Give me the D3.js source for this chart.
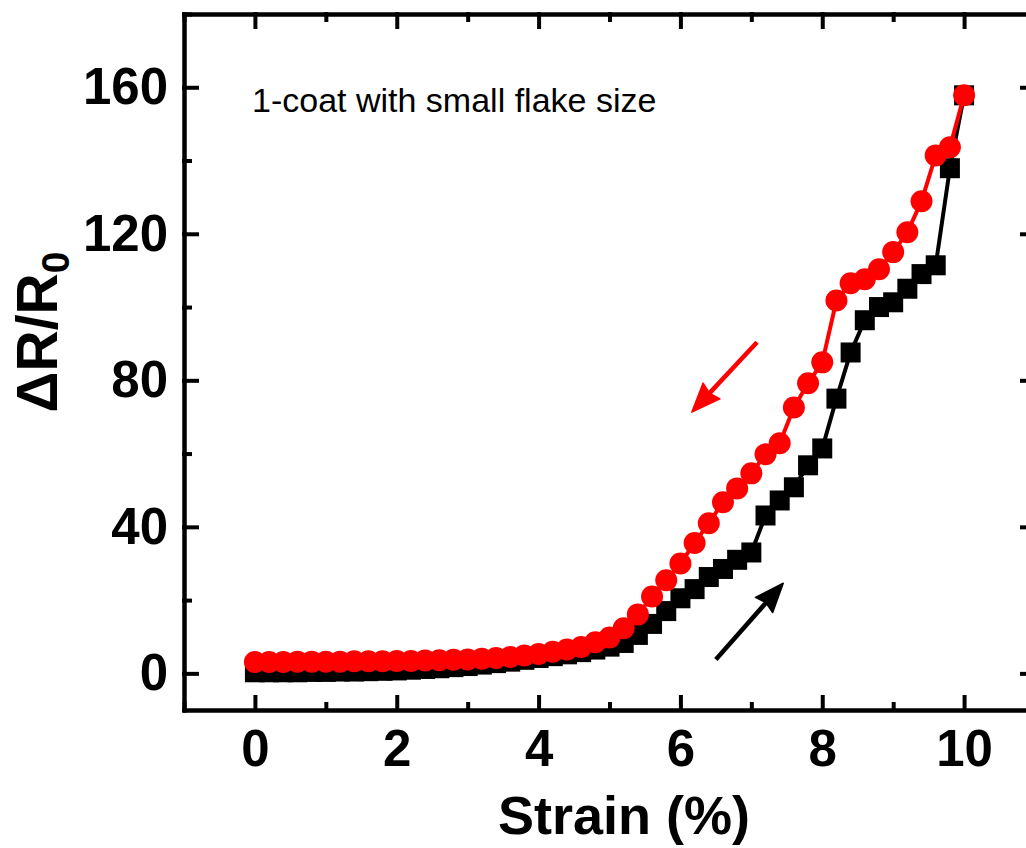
<!DOCTYPE html>
<html>
<head>
<meta charset="utf-8">
<script src="https://cdn.jsdelivr.net/npm/d3@7"></script>
<style>
  body { margin: 0; background: #fff; }
  svg { display: block; font-family: Arial, "Liberation Sans", sans-serif; }
  .axis path, .axis line { stroke: #000; stroke-width: 4; stroke-linecap: square; }
  .axis text { font-size: 51px; font-weight: bold; fill: #000; }
</style>
</head>
<body>
<div id="chart"></div>
<script>
const WIDTH = 1026;
const HEIGHT = 848;
const MARGINS = {left: 184, right: -9, top: 14, bottom: 138};

const VIS_WIDTH = WIDTH - MARGINS.left - MARGINS.right;
const VIS_HEIGHT = HEIGHT - MARGINS.top - MARGINS.bottom;

// strain (%), one reading every 0.2 %
const strain = [0, 0.2, 0.4, 0.6, 0.8, 1.0, 1.2, 1.4, 1.6, 1.8,
  2.0, 2.2, 2.4, 2.6, 2.8, 3.0, 3.2, 3.4, 3.6, 3.8,
  4.0, 4.2, 4.4, 4.6, 4.8, 5.0, 5.2, 5.4, 5.6, 5.8,
  6.0, 6.2, 6.4, 6.6, 6.8, 7.0, 7.2, 7.4, 7.6, 7.8,
  8.0, 8.2, 8.4, 8.6, 8.8, 9.0, 9.2, 9.4, 9.6, 9.8, 10.0];

// loading (black squares)
const loading = [0.3, 0.3, 0.3, 0.3, 0.4, 0.4, 0.5, 0.5, 0.6, 0.7,
  0.8, 1.0, 1.2, 1.4, 1.7, 2.0, 2.4, 2.8, 3.2, 3.7,
  4.2, 4.7, 5.2, 5.8, 6.5, 7.3, 8.3, 10.5, 13.5, 17.0,
  20.5, 23.0, 26.3, 28.5, 31.0, 33.0, 43.1, 47.2, 50.8, 56.8,
  61.4, 75.0, 87.6, 96.4, 100.0, 101.3, 105.0, 109.0, 111.4, 137.9, 157.8];

// unloading (red circles)
const unloading = [3.1, 3.1, 3.1, 3.2, 3.2, 3.2, 3.2, 3.3, 3.3, 3.3,
  3.4, 3.4, 3.5, 3.6, 3.7, 3.8, 4.0, 4.2, 4.5, 4.9,
  5.3, 5.9, 6.5, 7.2, 8.5, 9.8, 12.3, 16.1, 21.0, 25.4,
  30.0, 35.6, 41.0, 46.7, 50.5, 54.6, 59.8, 62.8, 72.6, 79.2,
  84.9, 101.8, 106.5, 107.6, 110.3, 115.0, 120.4, 128.9, 141.4, 143.6, 157.8];

const xTicks = [0, 2, 4, 6, 8, 10];
const xMinor = [-1, 1, 3, 5, 7, 9, 11];
const yTicks = [0, 40, 80, 120, 160];
const yMinor = [20, 60, 100, 140, 180];

// direction arrows: [strain start, value start, strain end, value end]
const upArrow = [6.5, 3.8, 7.45, 24.6];
const downArrow = [7.08, 90.4, 6.16, 71.3];

const svg = d3.select("#chart")
  .append("svg")
    .attr("width", WIDTH)
    .attr("height", HEIGHT);

const FRAME = svg.append("g")
  .attr("transform", `translate(${MARGINS.left},${MARGINS.top})`);

const x = d3.scaleLinear().domain([-1, 11]).range([0, VIS_WIDTH]);
const y = d3.scaleLinear().domain([-10, 180]).range([VIS_HEIGHT, 0]);

// axes, ticks pointing inward
FRAME.append("g").attr("class", "axis")
  .attr("transform", `translate(0,${VIS_HEIGHT})`)
  .call(d3.axisBottom(x).tickValues(xTicks).tickSize(-13).tickSizeOuter(0).tickPadding(20).tickFormat(d3.format("d")));
FRAME.append("g").attr("class", "axis")
  .attr("transform", `translate(0,${VIS_HEIGHT})`)
  .call(d3.axisBottom(x).tickValues(xMinor).tickSize(-6).tickSizeOuter(0).tickFormat(""));
FRAME.append("g").attr("class", "axis")
  .call(d3.axisTop(x).tickValues(xTicks).tickSize(-13).tickSizeOuter(0).tickFormat(""));
FRAME.append("g").attr("class", "axis")
  .call(d3.axisTop(x).tickValues(xMinor).tickSize(-6).tickSizeOuter(0).tickFormat(""));

FRAME.append("g").attr("class", "axis")
  .call(d3.axisLeft(y).tickValues(yTicks).tickSize(-13).tickSizeOuter(0).tickPadding(16));
FRAME.append("g").attr("class", "axis")
  .call(d3.axisLeft(y).tickValues(yMinor).tickSize(-6).tickSizeOuter(0).tickFormat(""));
FRAME.append("g").attr("class", "axis")
  .attr("transform", `translate(${VIS_WIDTH},0)`)
  .call(d3.axisRight(y).tickValues(yTicks).tickSize(-13).tickSizeOuter(0).tickFormat(""));
FRAME.append("g").attr("class", "axis")
  .attr("transform", `translate(${VIS_WIDTH},0)`)
  .call(d3.axisRight(y).tickValues(yMinor).tickSize(-6).tickSizeOuter(0).tickFormat(""));

FRAME.selectAll(".axis .tick text").attr("fill", "#000");

const line = d3.line()
  .x((d) => x(d[0]))
  .y((d) => y(d[1]));

const blackData = strain.map((s, i) => [s, loading[i]]);
const redData = strain.map((s, i) => [s, unloading[i]]);

// loading curve
FRAME.append("path")
  .datum(blackData)
  .attr("d", line)
  .attr("fill", "none")
  .attr("stroke", "#000")
  .attr("stroke-width", 4);

FRAME.selectAll(".sq")
  .data(blackData)
  .enter()
  .append("rect")
    .attr("class", "sq")
    .attr("x", (d) => x(d[0]) - 10)
    .attr("y", (d) => y(d[1]) - 10)
    .attr("width", 20)
    .attr("height", 20)
    .attr("fill", "#000");

// unloading curve
FRAME.append("path")
  .datum(redData)
  .attr("d", line)
  .attr("fill", "none")
  .attr("stroke", "#ff0000")
  .attr("stroke-width", 4);

FRAME.selectAll(".pt")
  .data(redData)
  .enter()
  .append("circle")
    .attr("class", "pt")
    .attr("cx", (d) => x(d[0]))
    .attr("cy", (d) => y(d[1]))
    .attr("r", 11)
    .attr("fill", "#ff0000");

// arrows
function drawArrow(a, color) {
  const x1 = x(a[0]), y1 = y(a[1]), x2 = x(a[2]), y2 = y(a[3]);
  const ang = Math.atan2(y2 - y1, x2 - x1);
  const len = 29, half = 11.5;
  const bx = x2 - len * Math.cos(ang), by = y2 - len * Math.sin(ang);
  FRAME.append("line")
    .attr("x1", x1).attr("y1", y1)
    .attr("x2", bx + 6 * Math.cos(ang)).attr("y2", by + 6 * Math.sin(ang))
    .attr("stroke", color)
    .attr("stroke-width", 4.5);
  FRAME.append("path")
    .attr("d", `M${x2},${y2} L${bx - half * Math.sin(ang)},${by + half * Math.cos(ang)} L${bx + 3 * Math.cos(ang)},${by + 3 * Math.sin(ang)} L${bx + half * Math.sin(ang)},${by - half * Math.cos(ang)} Z`)
    .attr("fill", color)
    .attr("stroke", color)
    .attr("stroke-width", 1.5)
    .attr("stroke-linejoin", "round");
}
drawArrow(upArrow, "#000");
drawArrow(downArrow, "#ff0000");

// annotation
svg.append("text")
  .attr("x", 252)
  .attr("y", 112)
  .attr("font-size", 34)
  .attr("fill", "#000")
  .text("1-coat with small flake size");

// axis titles
svg.append("text")
  .attr("x", 624)
  .attr("y", 834)
  .attr("text-anchor", "middle")
  .attr("font-size", 54)
  .attr("font-weight", "bold")
  .text("Strain (%)");

const yTitle = svg.append("text")
  .attr("transform", "translate(57,332) rotate(-90)")
  .attr("text-anchor", "middle")
  .attr("font-size", 57)
  .attr("font-weight", "bold");
yTitle.append("tspan").text("\u0394R/R");
yTitle.append("tspan").attr("font-size", 39).attr("dy", 12).text("0");
</script>
</body>
</html>
